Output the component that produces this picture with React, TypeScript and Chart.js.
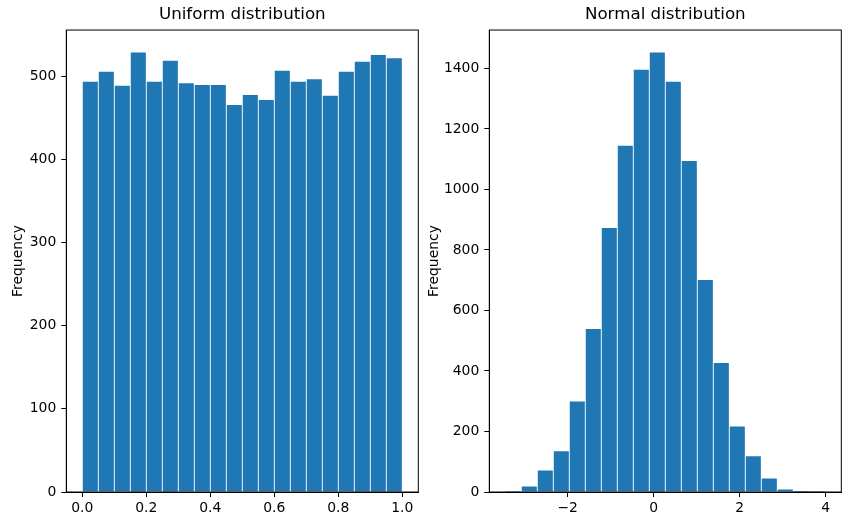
import React, { useEffect, useRef } from "react";
import { Chart, registerables } from "chart.js";

Chart.register(...registerables);

// ---------- data ----------
const uniformEdges = [0, 0.05, 0.1, 0.15, 0.2, 0.25, 0.3, 0.35, 0.4, 0.45, 0.5, 0.55, 0.6, 0.65, 0.7, 0.75, 0.8, 0.85, 0.9, 0.95, 1.0];
const uniformCounts = [494, 506, 489, 529, 494, 519, 492, 490, 490, 466, 478, 472, 507, 494, 497, 477, 506, 518, 526, 522];

const normalEdges = [-3.45, -3.078, -2.706, -2.334, -1.962, -1.59, -1.218, -0.846, -0.474, -0.102, 0.27, 0.642, 1.014, 1.386, 1.758, 2.13, 2.502, 2.874, 3.246, 3.618, 3.99];
const normalCounts = [1, 20, 73, 136, 301, 540, 874, 1146, 1397, 1454, 1358, 1096, 702, 428, 218, 120, 46, 10, 3, 1];

const uniformXTicks = [0, 0.2, 0.4, 0.6, 0.8, 1.0];
const uniformYTicks = [0, 100, 200, 300, 400, 500];
const normalXTicks = [-2, 0, 2, 4];
const normalYTicks = [0, 200, 400, 600, 800, 1000, 1200, 1400];

const uniformTitle = "Uniform distribution";
const normalTitle = "Normal distribution";
const yLabel = "Frequency";

// ---------- styling ----------
const FONT = "'DejaVu Sans', 'Liberation Sans', sans-serif";
const BAR = "#1f77b4";

const framePlugin = {
  id: "frame",
  afterDraw(chart: any) {
    const { ctx, chartArea } = chart;
    ctx.save();
    ctx.strokeStyle = "#000";
    ctx.lineWidth = 1;
    ctx.strokeRect(chartArea.left, chartArea.top, chartArea.right - chartArea.left, chartArea.bottom - chartArea.top);
    ctx.restore();
  },
};

type HistProps = {
  edges: number[];
  counts: number[];
  xTicks: number[];
  yTicks: number[];
  xMin: number;
  xMax: number;
  yMax: number;
  title: string;
  yAxisWidth: number;
  padRight: number;
  yTitlePad: number;
  fmtX: (v: number) => string;
};

function Histogram(p: HistProps) {
  const ref = useRef<HTMLCanvasElement | null>(null);
  useEffect(() => {
    if (!ref.current) return;
    const data = p.counts.map((c, i) => ({ x: (p.edges[i] + p.edges[i + 1]) / 2, y: c }));
    const gridCommon = {
      display: true,
      offset: false,
      drawOnChartArea: false,
      drawTicks: true,
      tickLength: 5,
      color: "#000",
      tickColor: "#000",
      lineWidth: 1,
    };
    const chart = new Chart(ref.current, {
      type: "bar",
      data: {
        datasets: [
          {
            data,
            backgroundColor: BAR,
            borderColor: "rgba(255,255,255,0.95)",
            borderWidth: 0.8,
            borderSkipped: "start",
            categoryPercentage: 1,
            barPercentage: 1,
          } as any,
        ],
      },
      options: {
        animation: false,
        responsive: false,
        devicePixelRatio: 1,
        layout: { padding: { left: 0, right: p.padRight, top: 0, bottom: 0 } },
        plugins: {
          legend: { display: false },
          tooltip: { enabled: false },
          title: {
            display: true,
            text: p.title,
            fullSize: false,
            color: "#000",
            font: { family: FONT, size: 16.7, weight: "normal" },
            padding: { top: 5, bottom: 5 },
          },
        },
        scales: {
          x: {
            type: "linear",
            min: p.xMin,
            max: p.xMax,
            offset: false,
            grid: gridCommon as any,
            border: { display: true, color: "#000", width: 1 },
            afterBuildTicks: (s: any) => {
              s.ticks = p.xTicks.map((v) => ({ value: v }));
            },
            afterFit: (s: any) => {
              s.height = 34;
            },
            ticks: {
              color: "#000",
              padding: 3,
              maxRotation: 0,
              autoSkip: false,
              font: { family: FONT, size: 13.9 },
              callback: (v: any) => p.fmtX(Number(v)),
            },
          },
          y: {
            type: "linear",
            min: 0,
            max: p.yMax,
            grid: gridCommon as any,
            border: { display: true, color: "#000", width: 1 },
            afterBuildTicks: (s: any) => {
              s.ticks = p.yTicks.map((v) => ({ value: v }));
            },
            afterFit: (s: any) => {
              s.width = p.yAxisWidth;
            },
            title: {
              display: true,
              text: yLabel,
              color: "#000",
              font: { family: FONT, size: 13.9 },
              padding: { top: p.yTitlePad, bottom: 0 },
            },
            ticks: {
              color: "#000",
              padding: 5,
              autoSkip: false,
              font: { family: FONT, size: 13.9 },
              callback: (v: any) => String(v),
            },
          },
        },
      },
      plugins: [framePlugin],
    });
    return () => chart.destroy();
  }, []);
  return <canvas ref={ref} width={425} height={526} style={{ display: "block", width: 425, height: 526 }} />;
}

const fmtUniform = (v: number) => v.toFixed(1);
const fmtNormal = (v: number) => (v < 0 ? "\u2212" + Math.abs(v) : String(v));

export default function App() {
  return (
    <div style={{ position: "absolute", left: 0, top: 0, width: 850, height: 526, background: "#fff", display: "flex" }}>
      <Histogram
        edges={uniformEdges}
        counts={uniformCounts}
        xTicks={uniformXTicks}
        yTicks={uniformYTicks}
        xMin={-0.05}
        xMax={1.05}
        yMax={555.5}
        title={uniformTitle}
        yAxisWidth={66.3}
        padRight={6.7}
        yTitlePad={10}
        fmtX={fmtUniform}
      />
      <Histogram
        edges={normalEdges}
        counts={normalCounts}
        xTicks={normalXTicks}
        yTicks={normalYTicks}
        xMin={-3.822}
        xMax={4.362}
        yMax={1527}
        title={normalTitle}
        yAxisWidth={64.3}
        padRight={8.7}
        yTitlePad={1}
        fmtX={fmtNormal}
      />
    </div>
  );
}
